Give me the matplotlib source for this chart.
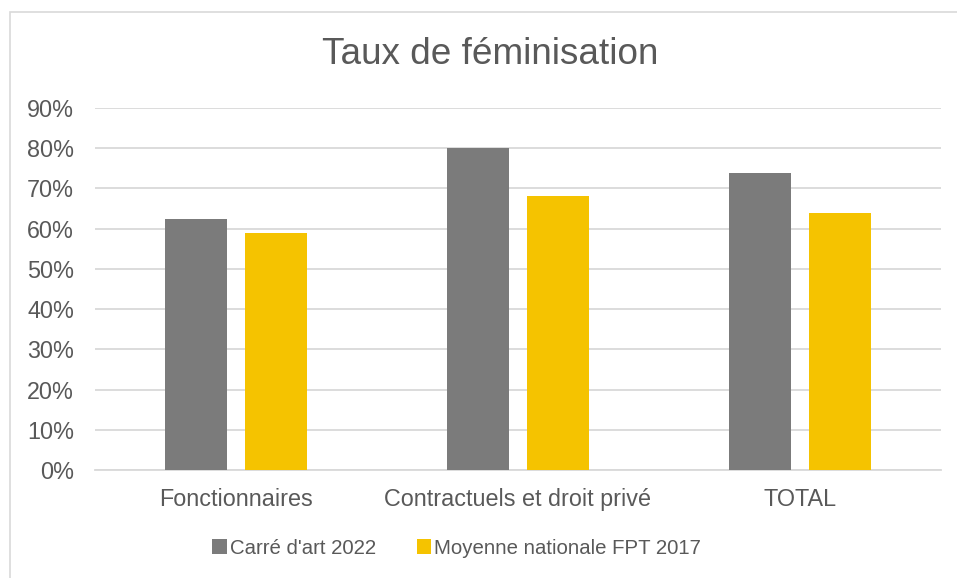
import matplotlib
matplotlib.use("Agg")
import matplotlib.pyplot as plt
from matplotlib.patches import Rectangle
from matplotlib.ticker import PercentFormatter, MultipleLocator
import numpy as np

plt.rcParams['font.family'] = ['Liberation Sans', 'DejaVu Sans']

categories = ["Fonctionnaires", "Contractuels et droit privé", "TOTAL"]
series_names = ["Carré d'art 2022", "Moyenne nationale FPT 2017"]
carre_dart_2022 = [62.4, 80.0, 73.8]
moyenne_fpt_2017 = [59.0, 68.0, 64.0]
title = "Taux de féminisation"

GRAY = "#7b7b7b"
YELLOW = "#f5c300"
TEXT = "#595959"
GRID = "#d9d9d9"

fig = plt.figure(figsize=(9.57, 5.78), dpi=100)
W, H = 957, 578
# chart border
fig.patches.append(Rectangle((10 / W, -0.1), 1.2, 1 - 12 / H + 0.1,
                             transform=fig.transFigure, fill=False,
                             edgecolor=GRID, linewidth=1.2))

ax = fig.add_axes([95 / W, 1 - 470 / H, (941 - 95) / W, (470 - 108) / H])

x = np.arange(len(categories))
bw = 0.223
off = 0.142
ax.bar(x - off, carre_dart_2022, width=bw, color=GRAY, label=series_names[0], zorder=3)
ax.bar(x + off, moyenne_fpt_2017, width=bw, color=YELLOW, label=series_names[1], zorder=3)

ax.set_xlim(-0.5, len(categories) - 0.5)
ax.set_ylim(0, 90)
ax.yaxis.set_major_locator(MultipleLocator(10))
ax.yaxis.set_major_formatter(PercentFormatter(decimals=0))
ax.grid(axis='y', color=GRID, linewidth=1.3, zorder=0)
for s in ["top", "right", "left"]:
    ax.spines[s].set_visible(False)
ax.spines["bottom"].set_color(GRID)
ax.spines["bottom"].set_linewidth(1.3)
ax.set_xticks(x)
ax.set_xticklabels(categories)
ax.tick_params(axis='both', length=0, colors=TEXT, labelsize=16.8)
ax.tick_params(axis='y', pad=15)
ax.tick_params(axis='x', pad=13)

fig.text(490 / W, 1 - 55 / H, title, ha='center', va='center', fontsize=26.6, color=TEXT)

leg = fig.legend(loc='center', bbox_to_anchor=(456.5 / W, 1 - 548 / H), ncol=2,
                 frameon=False, fontsize=14.7, handlelength=0.72, handleheight=0.72,
                 handletextpad=0.12, columnspacing=2.0)
for t in leg.get_texts():
    t.set_color(TEXT)

fig.savefig("out.png", dpi=100)
